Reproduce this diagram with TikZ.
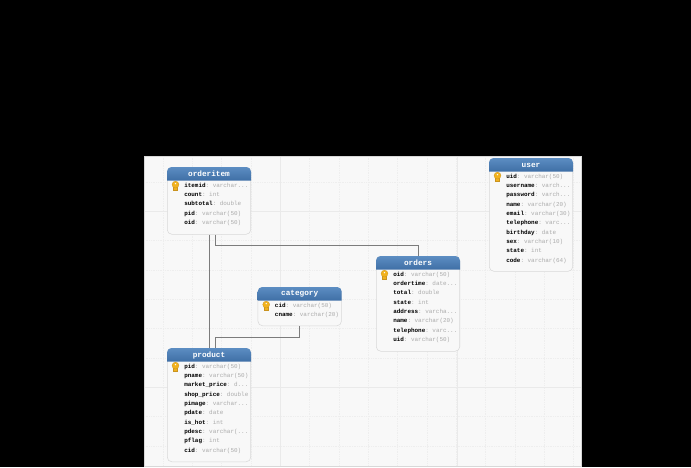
\documentclass[tikz,border=0pt]{standalone}
\usepackage{fontspec}
\setmonofont{Liberation Mono}
\usetikzlibrary{calc}
\definecolor{canvasbg}{HTML}{F8F8F8}
\definecolor{gridmajor}{HTML}{EAEAEA}
\definecolor{gridminor}{HTML}{EEEEEE}
\definecolor{tableline}{HTML}{D8D8D8}
\definecolor{headtop}{HTML}{5C8DC2}
\definecolor{headbot}{HTML}{3F6FA6}
\definecolor{typegrey}{HTML}{ABABAB}
\definecolor{linkgrey}{HTML}{7C7C7C}
\definecolor{keygold}{HTML}{F2B21E}
\definecolor{keydark}{HTML}{C9931F}
\tikzset{
    tablebox/.style={draw=tableline,fill=canvasbg,rounded corners=3.4pt,anchor=north west,
        minimum width=62.6pt,inner sep=0pt},
    headbar/.style={top color=headtop,bottom color=headbot,draw=none},
    headtext/.style={text=white,font=\ttfamily\bfseries\fontsize{5.8}{6}\selectfont,inner sep=0pt},
    rowtext/.style={anchor=base west,inner sep=0pt,font=\ttfamily\fontsize{4.45}{5}\selectfont},
    link/.style={draw=linkgrey,line width=0.7pt},
}
\newcommand{\cut}{...}
% table: name, x, y, height (px), title, rows
\newcommand{\dbtable}[6]{
    \node[tablebox,minimum height=#4*0.75pt] (#1) at (#2,#3) {};
    \path[headbar] ($(#1.north west)+(0,13.5)$) [rounded corners=3.4pt] -- (#1.north west)
        -- (#1.north east) [sharp corners] -- ($(#1.north east)+(0,13.5)$) -- cycle;
    \node[headtext] (#1-title) at ($(#1.north)+(0,7)$) {#5};
    % key of first row
    \fill[keygold,draw=keydark,line width=0.2pt] ($(#1.north west)+(6.6,20)$) rectangle ($(#1.north west)+(10.4,23)$);
    \fill[keygold,draw=keydark,line width=0.2pt] ($(#1.north west)+(8.5,17.6)$) circle (2.6pt);
    \fill[canvasbg] ($(#1.north west)+(8.5,16.6)$) circle (0.6pt);
    \foreach \a/\b [count=\i] in {#6}{
        \node[rowtext] (#1-\i) at ($(#1.north west)+(17,20+9.37*\i-9.37)$) {{\bfseries\a}\textcolor{typegrey}{: \b}};
    }
}
\begin{document}
\begin{tikzpicture}[x=0.75pt,y=-0.75pt]
\useasboundingbox (0,0) rectangle (691,467);
\fill[black] (0,0) rectangle (691,467);
\fill[canvasbg] (144,156) rectangle (581.5,466);
% grid
\begin{scope}
\clip (144,156) rectangle (581.5,466);
\foreach \gx in {0,...,15}{
    \draw[gridminor,line width=0.3pt,densely dotted] (163+29.33*\gx,156) -- (163+29.33*\gx,466);
}
\foreach \gy in {0,...,10}{
    \draw[gridminor,line width=0.3pt,densely dotted] (144,182+29.33*\gy) -- (581.5,182+29.33*\gy);
}
\foreach \gx in {280,457}{
    \draw[gridmajor,line width=0.5pt] (\gx,156) -- (\gx,466);
}
\foreach \gy in {211,387}{
    \draw[gridmajor,line width=0.5pt] (144,\gy) -- (581.5,\gy);
}
\end{scope}
\draw[tableline,line width=0.6pt] (144,156) rectangle (581.5,466);

\dbtable{orderitem}{167}{167}{67}{orderitem}{itemid/varchar\cut,count/int,subtotal/double,pid/varchar(50),oid/varchar(50)}
\dbtable{user}{489}{158}{113}{user}{uid/varchar(50),username/varch\cut,password/varch\cut,name/varchar(20),email/varchar(30),telephone/varc\cut,birthday/date,sex/varchar(10),state/int,code/varchar(64)}
\dbtable{orders}{376}{256}{95}{orders}{oid/varchar(50),ordertime/date\cut,total/double,state/int,address/varcha\cut,name/varchar(20),telephone/varc\cut,uid/varchar(50)}
\dbtable{category}{257.7}{287}{38.5}{category}{cid/varchar(50),cname/varchar(20)}
\dbtable{product}{167}{348}{113.5}{product}{pid/varchar(50),pname/varchar(50),market\_price/d\cut,shop\_price/double,pimage/varchar\cut,pdate/date,is\_hot/int,pdesc/varchar(\cut,pflag/int,cid/varchar(50)}

\coordinate (oi-out) at ($(orderitem.south)+(6,0)$);
\coordinate (pr-in) at ($(product.north)+(6,0)$);
\draw[link] (orderitem.south) -- (product.north);
\draw[link] (oi-out) -- ++(0,11) -| (orders.north);
\draw[link] (category.south) -- ++(0,11.5) -| (pr-in);
\end{tikzpicture}
\end{document}
